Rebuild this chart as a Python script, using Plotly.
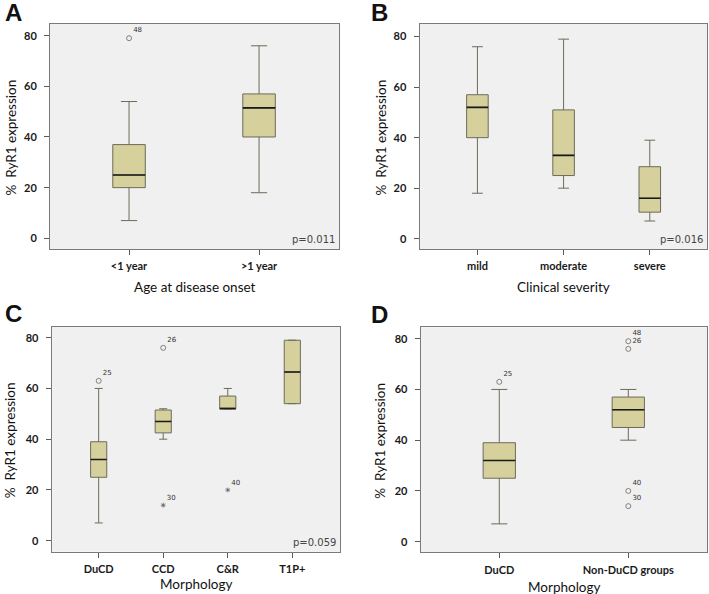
import plotly.graph_objects as go

# ---------------- data ----------------
# Panel A: age at disease onset
a_cats = ["<1 year", ">1 year"]
a_low = [7, 18]
a_q1 = [20, 40]
a_med = [25, 51.5]
a_q3 = [37, 57]
a_high = [54, 76]
a_out_idx = [0]
a_out_val = [79]
a_out_lab = ["48"]
a_out_sym = ["circle"]

# Panel B: clinical severity
b_cats = ["mild", "moderate", "severe"]
b_low = [18, 20, 7]
b_q1 = [40, 25, 10.5]
b_med = [52, 33, 16]
b_q3 = [57, 51, 28.5]
b_high = [76, 79, 39]
b_out_idx = []
b_out_val = []
b_out_lab = []
b_out_sym = []

# Panel C: morphology (4 groups)
c_cats = ["DuCD", "CCD", "C&R", "T1P+"]
c_low = [7, 40, 52, 54]
c_q1 = [25, 42.5, 52, 54]
c_med = [32, 47, 52, 66.5]
c_q3 = [39, 51.5, 57, 79]
c_high = [60, 52, 60, 79]
c_out_idx = [0, 1, 1, 2]
c_out_val = [63, 76, 14, 20]
c_out_lab = ["25", "26", "30", "40"]
c_out_sym = ["circle", "circle", "star", "star"]

# Panel D: morphology (DuCD vs others)
d_cats = ["DuCD", "Non-DuCD groups"]
d_low = [7, 40]
d_q1 = [25, 45]
d_med = [32, 52]
d_q3 = [39, 57]
d_high = [60, 60]
d_out_idx = [0, 1, 1, 1, 1]
d_out_val = [63, 79, 76, 20, 14]
d_out_lab = ["25", "48", "26", "40", "30"]
d_out_sym = ["circle", "circle", "circle", "circle", "circle"]

p_values = ["p=0.011", "p=0.016", "p=0.059", ""]
x_titles = ["Age at disease onset", "Clinical severity", "Morphology", "Morphology"]
letters = ["A", "B", "C", "D"]

# ---------------- styling ----------------
W, H = 709, 594
BOX_FILL = "#d6d09c"
BOX_LINE = "#6c6b5a"
BG = "#f0f0f0"
FONT = "Lato"
BOXW = 0.25

panels = [
    dict(cats=a_cats, low=a_low, q1=a_q1, med=a_med, q3=a_q3, high=a_high,
         oi=a_out_idx, ov=a_out_val, ol=a_out_lab, osym=a_out_sym,
         px=(50, 339), py=(24, 249), xr=(-0.608, 1.615), yr=(-4.22, 84.6)),
    dict(cats=b_cats, low=b_low, q1=b_q1, med=b_med, q3=b_q3, high=b_high,
         oi=b_out_idx, ov=b_out_val, ol=b_out_lab, osym=b_out_sym,
         px=(419.5, 707), py=(24, 249), xr=(-0.672, 2.664), yr=(-4.08, 85.0)),
    dict(cats=c_cats, low=c_low, q1=c_q1, med=c_med, q3=c_q3, high=c_high,
         oi=c_out_idx, ov=c_out_val, ol=c_out_lab, osym=c_out_sym,
         px=(51.7, 340), py=(326.7, 551.7), xr=(-0.728, 3.739), yr=(-4.33, 84.33)),
    dict(cats=d_cats, low=d_low, q1=d_q1, med=d_med, q3=d_q3, high=d_high,
         oi=d_out_idx, ov=d_out_val, ol=d_out_lab, osym=d_out_sym,
         px=(420.7, 707), py=(327.3, 552.3), xr=(-0.609, 1.61), yr=(-4.2, 84.5)),
]

fig = go.Figure()
annotations = []

for k, p in enumerate(panels):
    sfx = "" if k == 0 else str(k + 1)
    xa, ya = "x" + sfx, "y" + sfx
    idx = list(range(len(p["cats"])))
    fig.add_trace(go.Box(
        x=idx, q1=p["q1"], median=p["med"], q3=p["q3"],
        lowerfence=p["low"], upperfence=p["high"],
        width=BOXW, whiskerwidth=0.5,
        fillcolor=BOX_FILL, line=dict(color=BOX_LINE, width=1),
        boxpoints=False, hoverinfo="skip",
        xaxis=xa, yaxis=ya, showlegend=False,
    ))
    # darker median lines
    mx, my = [], []
    for i, m in zip(idx, p["med"]):
        mx += [i - BOXW / 2, i + BOXW / 2, None]
        my += [m, m, None]
    fig.add_trace(go.Scatter(x=mx, y=my, mode="lines",
                             line=dict(color="#1a1a1a", width=1.6),
                             xaxis=xa, yaxis=ya, showlegend=False, hoverinfo="skip"))
    # outliers / extremes
    if p["oi"]:
        syms = ["circle-open" if s == "circle" else "asterisk-open" for s in p["osym"]]
        sizes = [5 if s == "circle" else 4 for s in p["osym"]]
        fig.add_trace(go.Scatter(
            x=p["oi"], y=p["ov"], mode="markers+text",
            marker=dict(symbol=syms, size=sizes, color="#555555",
                        line=dict(color="#555555", width=1)),
            text=p["ol"], textposition="top right",
            textfont=dict(family="DejaVu Sans", size=7, color="#333333"),
            xaxis=xa, yaxis=ya, showlegend=False, hoverinfo="skip",
        ))

    x0, x1 = p["px"]
    y0, y1 = p["py"]
    dom_x = [x0 / W, x1 / W]
    dom_y = [1 - y1 / H, 1 - y0 / H]
    axis_common = dict(showline=True, linecolor="#7a7a7a", linewidth=1, mirror=True,
                       showgrid=False, zeroline=False, ticks="outside", ticklen=5,
                       tickcolor="#5a5a5a", tickwidth=1,
                       tickfont=dict(family=FONT, size=11, color="#1a1a1a", weight="bold"))
    fig.update_layout(**{
        "xaxis" + sfx: dict(domain=dom_x, range=list(p["xr"]), anchor=ya,
                            tickvals=idx, ticktext=p["cats"], ticklabelstandoff=2,
                            **axis_common),
        "yaxis" + sfx: dict(domain=dom_y, range=list(p["yr"]), anchor=xa,
                            tickvals=[0, 20, 40, 60, 80], ticklabelstandoff=5,
                            **axis_common),
    })

    # x axis title
    xt_y = {0: 287, 1: 287, 2: 584, 3: 587}[k]
    annotations.append(dict(text=x_titles[k], x=(x0 + x1) / 2 / W, y=1 - xt_y / H,
                            xref="paper", yref="paper", showarrow=False,
                            xanchor="center", yanchor="middle",
                            font=dict(family=FONT, size=13.5, color="#111111")))
    # y axis title
    yt_x = {0: 10, 1: 380, 2: 10, 3: 380}[k]
    annotations.append(dict(text="%  RyR1 expression", x=yt_x / W, y=1 - ((y0 + y1) / 2 + 1) / H,
                            xref="paper", yref="paper", showarrow=False, textangle=-90,
                            xanchor="center", yanchor="middle",
                            font=dict(family=FONT, size=13.5, color="#111111")))
    # panel letter
    lx, ly = {0: (3, 13), 1: (369, 13), 2: (3, 313), 3: (369, 314)}[k]
    annotations.append(dict(text="<b>" + letters[k] + "</b>", x=lx / W, y=1 - ly / H,
                            xref="paper", yref="paper", showarrow=False,
                            xanchor="left", yanchor="middle",
                            font=dict(family="Liberation Sans", size=24, color="#111111")))
    # p value
    if p_values[k]:
        annotations.append(dict(text=p_values[k], x=(x1 - 2) / W, y=1 - (y1 - 2) / H,
                                xref="paper", yref="paper", showarrow=False,
                                xanchor="right", yanchor="bottom",
                                font=dict(family="DejaVu Sans", size=10, color="#444444")))

fig.update_layout(
    width=W, height=H, margin=dict(l=0, r=0, t=0, b=0),
    paper_bgcolor="white", plot_bgcolor=BG,
    annotations=annotations, showlegend=False,
)

fig.write_html("out.html", config={"displayModeBar": False},
               post_script="document.body.style.margin='0';")
